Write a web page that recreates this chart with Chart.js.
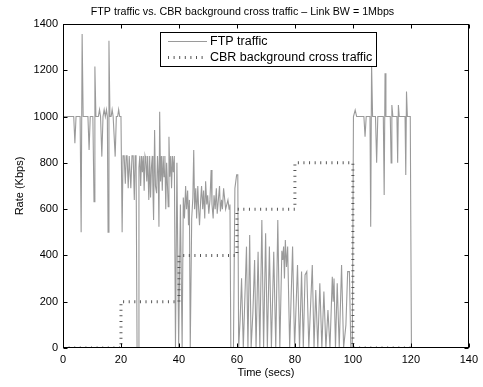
<!DOCTYPE html>
<html><head><meta charset="utf-8">
<script src="https://cdn.jsdelivr.net/npm/chart.js@4.4.1/dist/chart.umd.min.js"></script>
<style>html,body{margin:0;padding:0;background:#fff;}canvas{display:block;}</style>
</head><body>
<canvas id="c" width="483" height="387"></canvas>
<script>
const titleText = 'FTP traffic vs. CBR background cross traffic \u2013 Link BW = 1Mbps';
const xTitle = 'Time (secs)';
const yTitle = 'Rate (Kbps)';
const seriesLabels = ['FTP traffic', 'CBR background cross traffic'];
const xTicks = [0, 20, 40, 60, 80, 100, 120, 140];
const yTicks = [0, 200, 400, 600, 800, 1000, 1200, 1400];

const ftpTime = [0,3.7,4.1,4.5,5.9,6.26,6.6,6.95,8.6,9.0,9.4,10.3,10.7,11.0,11.35,12.2,12.6,12.95,13.4,13.8,14.2,14.6,15.0,15.3,15.55,15.85,16.2,16.6,16.95,17.3,18.0,18.4,18.85,19.2,19.55,20.0,20.4,20.7,21.1,21.5,21.8,22.1,22.5,22.85,23.1,23.4,23.8,24.2,24.6,24.9,25.2,25.55,25.9,26.2,26.5,26.8,27.1,27.4,27.7,28.0,28.3,28.6,28.9,29.2,29.6,29.9,30.2,30.5,30.8,31.0,31.25,31.6,31.9,32.3,32.6,32.85,33.1,33.35,33.65,33.95,34.25,34.55,34.85,35.15,35.45,35.75,36.05,36.3,36.55,36.85,37.15,37.45,37.75,38.05,38.4,38.8,39.3,39.9,40.5,41.1,41.5,41.9,42.3,42.6,43.0,43.3,43.6,43.9,44.4,44.8,45.1,45.4,45.8,46.1,46.5,46.8,47.1,47.5,47.8,48.2,48.5,48.9,49.2,49.6,49.9,50.3,50.7,51.1,51.4,51.8,52.1,52.5,52.9,53.2,53.6,54.0,54.3,54.7,55.0,55.4,55.8,56.1,56.5,56.9,57.3,57.6,57.9,58.8,59.3,59.9,60.3,60.6,61.1,61.6,62.2,62.7,63.3,63.8,64.4,64.9,65.5,66.1,66.6,67.3,67.9,68.6,69.2,69.9,70.5,71.2,71.9,72.7,73.4,74.1,74.8,75.5,75.8,76.1,76.4,76.7,77.1,77.5,78.2,79.2,79.9,80.9,81.6,82.3,82.9,83.5,84.1,84.8,86.0,86.6,87.2,87.9,88.6,89.3,90.0,90.7,91.4,92.1,92.9,93.2,93.5,94.0,94.6,95.3,96.1,96.8,97.6,98.2,98.8,99.3,99.8,100.2,100.8,101.3,103.8,104.2,104.6,105.9,106.15,106.45,106.8,107.8,108.2,108.6,110.5,110.8,111.1,111.4,112.9,113.2,113.45,113.8,115.2,115.45,115.7,116.0,118.0,118.25,118.5,118.8,119.8,120.2,121];
const ftpRate = [1000,1000,885,1000,1000,500,1357,1000,1000,856,1000,1000,632,1216,1000,1000,1030,1000,827,1000,1030,1000,1030,1000,500,1328,1000,1000,1030,1000,827,1000,1000,1030,1000,1000,500,830,830,710,830,830,690,830,830,690,830,830,640,830,830,0,0,780,830,700,830,760,830,680,830,810,720,830,640,830,650,780,830,700,553,942,700,669,830,760,524,1021,720,830,680,830,740,830,600,800,700,611,913,740,830,690,830,760,830,0,800,0,620,0,650,560,700,600,680,530,640,0,560,650,856,600,690,560,700,600,530,640,700,600,680,560,720,620,660,580,640,769,620,560,660,600,690,580,640,700,590,640,600,690,640,600,620,640,600,620,0,0,690,748,748,0,120,301,0,200,438,0,488,0,150,380,0,416,0,553,0,496,0,438,0,416,0,553,0,420,380,438,300,467,350,438,0,438,0,359,0,330,0,316,330,0,359,0,251,0,280,0,244,0,164,0,308,200,300,0,280,0,359,0,100,330,330,0,0,1000,1028,1000,1000,913,1000,1000,524,1230,1000,1000,800,1000,1000,661,1187,1000,1000,800,1050,1000,1000,800,1050,1000,1000,748,1108,1000,1000,0,0];

const cbrTime = [0, 20, 20, 40, 40, 60, 60, 80, 80, 100, 100, 120];
const cbrRate = [0, 0, 200, 200, 400, 400, 600, 600, 800, 800, 0, 0];

const FONT = "'Liberation Sans', Arial, Helvetica, sans-serif";
const ftpStyle = { color: '#9a9a9a', width: 1.1, dash: [] };
const cbrStyle = { color: '#555555', width: 3, dash: [1, 4.6] };

const decor = {
  id: 'decor',
  afterDatasetsDraw(chart) {
    const { ctx, chartArea: a, scales: { x, y } } = chart;
    ctx.save();
    const L = Math.round(a.left) + 0.5, R = Math.round(a.right) - 0.5;
    const T = Math.round(a.top) + 0.5, B = Math.round(a.bottom) - 0.5;
    ctx.strokeStyle = '#000';
    ctx.lineWidth = 1;
    ctx.setLineDash([]);
    ctx.strokeRect(L, T, R - L, B - T);
    const tl = 4;
    ctx.beginPath();
    x.ticks.forEach(t => {
      const px = Math.round(x.getPixelForValue(t.value)) + 0.5;
      ctx.moveTo(px, B); ctx.lineTo(px, B - tl);
      ctx.moveTo(px, T); ctx.lineTo(px, T + tl);
    });
    y.ticks.forEach(t => {
      const py = Math.round(y.getPixelForValue(t.value)) + 0.5;
      ctx.moveTo(L, py); ctx.lineTo(L + tl, py);
      ctx.moveTo(R, py); ctx.lineTo(R - tl, py);
    });
    ctx.stroke();

    // legend box
    const bx = 160.5, by = 32.5, bw = 216, bh = 34;
    ctx.fillStyle = '#fff';
    ctx.fillRect(bx, by, bw, bh);
    ctx.strokeStyle = '#000';
    ctx.lineWidth = 1;
    ctx.strokeRect(bx, by, bw, bh);
    const rows = [41.5, 57.5];
    const styles = [ftpStyle, cbrStyle];
    ctx.font = '12.5px ' + FONT;
    ctx.textBaseline = 'middle';
    ctx.textAlign = 'left';
    seriesLabels.forEach((lab, i) => {
      const s = styles[i];
      ctx.beginPath();
      ctx.strokeStyle = s.color;
      ctx.lineWidth = s.width;
      ctx.lineCap = 'butt';
      ctx.setLineDash(s.dash);
      ctx.moveTo(168, rows[i]);
      ctx.lineTo(207, rows[i]);
      ctx.stroke();
      ctx.setLineDash([]);
      ctx.fillStyle = '#000';
      ctx.fillText(lab, 210, rows[i] + 0.5);
    });

    // title
    ctx.font = '10.7px ' + FONT;
    ctx.textAlign = 'center';
    ctx.textBaseline = 'middle';
    ctx.fillStyle = '#000';
    ctx.fillText(titleText, 242.5, 12);
    ctx.restore();
  }
};

new Chart(document.getElementById('c'), {
  type: 'line',
  data: {
    datasets: [
      {
        label: seriesLabels[0],
        data: ftpTime.map((t, i) => ({ x: t, y: ftpRate[i] })),
        borderColor: ftpStyle.color,
        borderWidth: ftpStyle.width,
        pointRadius: 0,
        tension: 0,
        fill: false,
        order: 2
      },
      {
        label: seriesLabels[1],
        data: cbrTime.map((t, i) => ({ x: t, y: cbrRate[i] })),
        borderColor: cbrStyle.color,
        borderWidth: cbrStyle.width,
        borderDash: cbrStyle.dash,
        borderCapStyle: 'butt',
        pointRadius: 0,
        tension: 0,
        fill: false,
        order: 1
      }
    ]
  },
  options: {
    responsive: false,
    animation: false,
    events: [],
    devicePixelRatio: 1,
    layout: { padding: { top: 24, right: 10, bottom: 0, left: 0 } },
    plugins: { legend: { display: false }, title: { display: false }, tooltip: { enabled: false } },
    scales: {
      x: {
        type: 'linear', min: 0, max: 140,
        afterBuildTicks: s => { s.ticks = xTicks.map(v => ({ value: v })); },
        afterFit: s => { s.height = 39; },
        grid: { display: false, drawTicks: false },
        border: { display: false },
        ticks: { color: '#000', font: { family: FONT, size: 11 }, padding: 5, maxRotation: 0, autoSkip: false, callback: v => String(v) },
        title: { display: true, text: xTitle, color: '#000', font: { family: FONT, size: 11 }, padding: { top: 0, bottom: 7.4 } }
      },
      y: {
        type: 'linear', min: 0, max: 1400,
        afterBuildTicks: s => { s.ticks = yTicks.map(v => ({ value: v })); },
        afterFit: s => { s.width = 63; },
        grid: { display: false, drawTicks: false },
        border: { display: false },
        ticks: { color: '#000', font: { family: FONT, size: 11 }, padding: 5, autoSkip: false, callback: v => String(v) },
        title: { display: true, text: yTitle, color: '#000', font: { family: FONT, size: 11 }, padding: { top: 13.4, bottom: 0 } }
      }
    }
  },
  plugins: [decor]
});
</script>
</body></html>
